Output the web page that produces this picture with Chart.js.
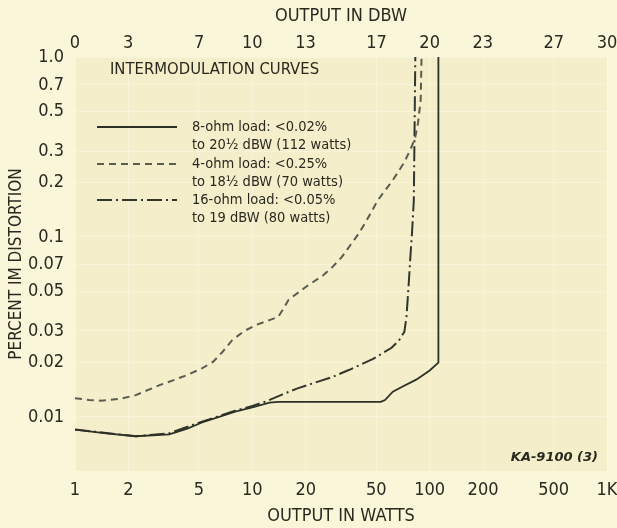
<!DOCTYPE html>
<html>
<head>
<meta charset="utf-8">
<title>Intermodulation curves</title>
<script src="https://cdn.jsdelivr.net/npm/chart.js@4.4.1/dist/chart.umd.min.js"></script>
<style>
    html, body { margin: 0; padding: 0; background: #faf6da; }
    #wrap { width: 617px; height: 528px; }
</style>
</head>
<body>
<div id="wrap"><canvas id="imChart" width="617" height="528"></canvas></div>
<script>
// Axis ticks
const wattTicks = [1, 2, 5, 10, 20, 50, 100, 200, 500, 1000];
const wattLabels = ['1', '2', '5', '10', '20', '50', '100', '200', '500', '1K'];
const dbwTicks = [0, 3, 7, 10, 13, 17, 20, 23, 27, 30];
const pctTicks = [1.0, 0.7, 0.5, 0.3, 0.2, 0.1, 0.07, 0.05, 0.03, 0.02, 0.01];
const pctLabels = ['1.0', '0.7', '0.5', '0.3', '0.2', '0.1', '0.07', '0.05', '0.03', '0.02', '0.01'];

// 8-ohm load (solid)
const ohm8Watts = [1, 1.5, 2.2, 3.4, 4.3, 5.2, 6.5, 8, 10, 12.5, 14, 53, 56, 62, 70, 84, 100, 112, 112];
const ohm8Pct = [0.0085, 0.0081, 0.0078, 0.0080, 0.0086, 0.0093, 0.0100, 0.0107, 0.0113, 0.0120, 0.0121, 0.0121, 0.0124, 0.0138, 0.0147, 0.0161, 0.0181, 0.0200, 1.0];

// 4-ohm load (dashed)
const ohm4Watts = [1, 1.2, 1.4, 1.8, 2.2, 3, 3.6, 4.3, 5.2, 6, 6.8, 7.7, 9, 10.5, 12.5, 14, 15, 16, 20, 25, 28, 32, 36, 40, 45, 51, 62, 72, 79, 83, 86, 89, 90];
const ohm4Pct = [0.0127, 0.0124, 0.0123, 0.0126, 0.0132, 0.0150, 0.0160, 0.0171, 0.0186, 0.0202, 0.0230, 0.0267, 0.0300, 0.0324, 0.0345, 0.0360, 0.0400, 0.0447, 0.0527, 0.0610, 0.0673, 0.0774, 0.091, 0.105, 0.128, 0.16, 0.207, 0.26, 0.316, 0.36, 0.43, 0.58, 1.0];

// 16-ohm load (dash-dot)
const ohm16Watts = [1, 2.2, 3.4, 5.2, 8, 10, 12, 14.7, 18, 23, 28, 35, 48, 61, 67, 72, 74, 76, 78, 79.5, 81.4, 82, 83];
const ohm16Pct = [0.0085, 0.0078, 0.0081, 0.0094, 0.0108, 0.0115, 0.0122, 0.0133, 0.0144, 0.0156, 0.0166, 0.0182, 0.0210, 0.0242, 0.0265, 0.0297, 0.036, 0.053, 0.080, 0.105, 0.16, 0.316, 1.0];

const legendText = [
    ['8-ohm load: <0.02%', 'to 20\u00bd dBW (112 watts)'],
    ['4-ohm load: <0.25%', 'to 18\u00bd dBW (70 watts)'],
    ['16-ohm load: <0.05%', 'to 19 dBW (80 watts)']
];

const NARROW = "'Liberation Sans Narrow', 'DejaVu Sans Condensed', 'Roboto', sans-serif";
const INK = '#2a291f';

function toPoints(xs, ys) {
    return xs.map((x, i) => ({ x: x, y: ys[i] }));
}

// fixed box for the horizontal axes so the plot spans 75..607
function fitHorizontal(s) {
    s.height = 57;
    s.paddingLeft = 0;
    s.paddingRight = 10;
}

// Paper background, titles and hand-drawn legend
const paperPlugin = {
    id: 'paper',
    beforeDraw(chart) {
        const { ctx, chartArea: a } = chart;
        ctx.save();
        ctx.fillStyle = '#faf6da';
        ctx.fillRect(0, 0, chart.width, chart.height);
        ctx.fillStyle = '#f4eecb';
        ctx.fillRect(a.left, a.top, a.right - a.left, a.bottom - a.top);
        ctx.restore();
    },
    afterDraw(chart) {
        const ctx = chart.ctx;
        ctx.save();
        ctx.fillStyle = INK;
        ctx.textBaseline = 'middle';
        ctx.textAlign = 'left';

        ctx.font = `16.5px ${NARROW}`;
        ctx.fillText('INTERMODULATION CURVES', 110, 70);

        const rowY = [127, 164, 200];
        chart.data.datasets.forEach((ds, i) => {
            const y = rowY[i];
            ctx.save();
            ctx.strokeStyle = ds.borderColor;
            ctx.lineWidth = ds.borderWidth;
            ctx.setLineDash(ds.borderDash || []);
            ctx.beginPath();
            ctx.moveTo(97, y);
            ctx.lineTo(177, y);
            ctx.stroke();
            ctx.restore();

            ctx.font = `14.5px ${NARROW}`;
            ctx.fillText(legendText[i][0], 192, y);
            ctx.fillText(legendText[i][1], 192, y + 18);
        });

        ctx.font = `italic bold 13px 'DejaVu Sans', sans-serif`;
        ctx.textAlign = 'right';
        ctx.fillText('KA-9100 (3)', 598, 458);
        ctx.restore();
    }
};

const tickFont = { family: NARROW, size: 18 };
const titleFont = { family: NARROW, size: 18 };
const faintGrid = { color: 'rgba(255, 255, 245, 0.35)', drawTicks: false, lineWidth: 1 };

new Chart(document.getElementById('imChart'), {
    type: 'line',
    data: {
        datasets: [
            {
                label: '8-ohm load',
                data: toPoints(ohm8Watts, ohm8Pct),
                borderColor: '#2d3027',
                borderWidth: 1.8,
                tension: 0
            },
            {
                label: '4-ohm load',
                data: toPoints(ohm4Watts, ohm4Pct),
                borderColor: '#5a5c50',
                borderWidth: 2,
                borderDash: [7, 5],
                tension: 0
            },
            {
                label: '16-ohm load',
                data: toPoints(ohm16Watts, ohm16Pct),
                borderColor: '#33362c',
                borderWidth: 2,
                borderDash: [15, 4, 2, 4],
                tension: 0
            }
        ]
    },
    options: {
        responsive: false,
        animation: false,
        devicePixelRatio: 1,
        layout: { padding: 0 },
        elements: { point: { radius: 0 } },
        plugins: {
            legend: { display: false },
            tooltip: { enabled: false }
        },
        scales: {
            x: {
                type: 'logarithmic',
                position: 'bottom',
                min: 1,
                max: 1000,
                afterBuildTicks: s => { s.ticks = wattTicks.map(v => ({ value: v })); },
                afterFit: fitHorizontal,
                border: { display: false },
                grid: faintGrid,
                ticks: {
                    autoSkip: false,
                    maxRotation: 0,
                    padding: 9,
                    color: INK,
                    font: tickFont,
                    callback: (v, i) => wattLabels[i]
                },
                title: {
                    display: true,
                    text: 'OUTPUT IN WATTS',
                    color: INK,
                    font: titleFont,
                    padding: { top: 0, bottom: 1 }
                }
            },
            xTop: {
                type: 'logarithmic',
                position: 'top',
                min: 1,
                max: 1000,
                afterBuildTicks: s => { s.ticks = dbwTicks.map(d => ({ value: Math.pow(10, d / 10) })); },
                afterFit: fitHorizontal,
                border: { display: false },
                grid: { display: false, drawTicks: false },
                ticks: {
                    autoSkip: false,
                    maxRotation: 0,
                    padding: 3,
                    color: INK,
                    font: tickFont,
                    callback: (v, i) => String(dbwTicks[i])
                },
                title: {
                    display: true,
                    text: 'OUTPUT IN DBW',
                    color: INK,
                    font: titleFont,
                    padding: { top: 6, bottom: 0 }
                }
            },
            y: {
                type: 'logarithmic',
                min: 0.005,
                max: 1.0,
                afterBuildTicks: s => { s.ticks = pctTicks.map(v => ({ value: v })); },
                afterFit: s => { s.width = 75; },
                border: { display: false },
                grid: faintGrid,
                ticks: {
                    autoSkip: false,
                    padding: 11,
                    color: INK,
                    font: tickFont,
                    callback: (v, i) => pctLabels[i]
                },
                title: {
                    display: true,
                    text: 'PERCENT IM DISTORTION',
                    color: INK,
                    font: { family: NARROW, size: 17 },
                    padding: { top: 6, bottom: 0 }
                }
            }
        }
    },
    plugins: [paperPlugin]
});
</script>
</body>
</html>
